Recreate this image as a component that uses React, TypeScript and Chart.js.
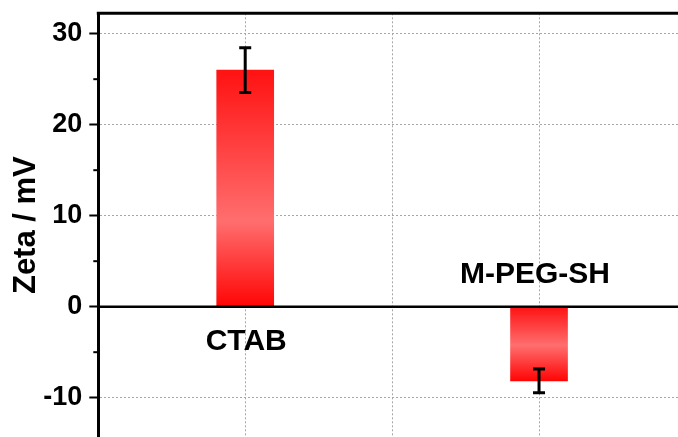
import { useEffect, useRef } from "react";
import { Chart, registerables } from "chart.js";

Chart.register(...registerables);

const categories = ["CTAB", "M-PEG-SH"];
const positions = [1, 2];
const zeta = [26, -8.15];
const zetaError = [2.45, 1.3];
const yTicks = [-10, 0, 10, 20, 30];
const yMinorTicks = [-5, 5, 15, 25];
const xGrid = [1, 1.5, 2];

const FONT = '"Liberation Sans", Arial, Helvetica, sans-serif';
const GRID = "#a6a6a6";

const decorPlugin = {
  id: "decor",
  afterDatasetsDraw(chart: any) {
    const { ctx, chartArea, scales } = chart;
    const xs = scales.x;
    const ys = scales.y;
    const y0 = ys.getPixelForValue(0);
    ctx.save();
    ctx.setLineDash([]);
    ctx.strokeStyle = "#000";
    // zero line
    ctx.lineWidth = 2.5;
    ctx.beginPath();
    ctx.moveTo(chartArea.left, y0);
    ctx.lineTo(chartArea.right, y0);
    ctx.stroke();
    // top frame
    ctx.lineWidth = 3;
    ctx.beginPath();
    ctx.moveTo(chartArea.left - 1.5, chartArea.top);
    ctx.lineTo(chartArea.right, chartArea.top);
    ctx.stroke();
    // minor ticks
    ctx.lineWidth = 2;
    yMinorTicks.forEach((v) => {
      const y = ys.getPixelForValue(v);
      ctx.beginPath();
      ctx.moveTo(chartArea.left - 5, y);
      ctx.lineTo(chartArea.left, y);
      ctx.stroke();
    });
    // error bars
    ctx.lineWidth = 3;
    zeta.forEach((v, i) => {
      const x = xs.getPixelForValue(positions[i]);
      const yt = ys.getPixelForValue(v + zetaError[i]);
      const yb = ys.getPixelForValue(v - zetaError[i]);
      ctx.beginPath();
      ctx.moveTo(x, yt);
      ctx.lineTo(x, yb);
      ctx.moveTo(x - 6, yt);
      ctx.lineTo(x + 6, yt);
      ctx.moveTo(x - 6, yb);
      ctx.lineTo(x + 6, yb);
      ctx.stroke();
    });
    // category labels
    ctx.fillStyle = "#000";
    ctx.font = `bold 30px ${FONT}`;
    ctx.textAlign = "center";
    ctx.textBaseline = "alphabetic";
    categories.forEach((c, i) => {
      const x = xs.getPixelForValue(positions[i]);
      const y = zeta[i] >= 0 ? y0 + 43 : y0 - 24;
      ctx.fillText(c, x + (zeta[i] >= 0 ? 1 : -4), y);
    });
    ctx.restore();
  },
};

export default function App() {
  const canvasRef = useRef<HTMLCanvasElement | null>(null);

  useEffect(() => {
    if (!canvasRef.current) return;
    const chart = new Chart(canvasRef.current, {
      type: "bar",
      data: {
        datasets: [
          {
            data: categories.map((_, i) => ({ x: positions[i], y: zeta[i] })),
            barThickness: 57,
            borderWidth: 0,
            backgroundColor: (c: any) => {
              const ch = c.chart;
              if (!ch.chartArea || c.dataIndex === undefined) return "#ff2020";
              const ys = ch.scales.y;
              const v = zeta[c.dataIndex];
              const p0 = ys.getPixelForValue(0);
              const p1 = ys.getPixelForValue(v);
              const g = ch.ctx.createLinearGradient(0, Math.min(p0, p1), 0, Math.max(p0, p1));
              g.addColorStop(0, "#ff1212");
              g.addColorStop(v >= 0 ? 0.64 : 0.52, "#ff6e6e");
              g.addColorStop(1, "#ff0505");
              return g;
            },
          } as any,
        ],
      },
      options: {
        animation: false,
        responsive: true,
        maintainAspectRatio: false,
        layout: { padding: { top: 13.3, left: 0, right: 0, bottom: 0 } },
        plugins: {
          legend: { display: false },
          tooltip: { enabled: false },
          title: { display: false },
        },
        scales: {
          x: {
            type: "linear",
            offset: false,
            min: 0.5,
            max: 2.473,
            afterBuildTicks: (s: any) => {
              s.ticks = xGrid.map((v) => ({ value: v }));
            },
            afterFit: (s: any) => {
              s.height = 0;
              s.paddingLeft = 0;
              s.paddingRight = 0;
            },
            ticks: { display: false },
            grid: { color: GRID, lineWidth: 1, drawTicks: false, offset: false },
            border: { display: false, dash: [2, 2] },
          },
          y: {
            type: "linear",
            min: -14.32,
            max: 32.24,
            afterBuildTicks: (s: any) => {
              s.ticks = yTicks.map((v) => ({ value: v }));
            },
            afterFit: (s: any) => {
              s.width = 98.3;
              s.paddingTop = 0;
              s.paddingBottom = 0;
            },
            ticks: {
              color: "#000",
              padding: 7,
              font: { family: FONT, size: 27, weight: "bold" },
            },
            grid: {
              color: (c: any) => (c.tick && c.tick.value === 0 ? "rgba(0,0,0,0)" : GRID),
              lineWidth: 1,
              drawTicks: true,
              tickLength: 9,
              tickColor: "#000",
              tickWidth: 2,
            },
            border: { display: true, color: "#000", width: 3, dash: [2, 2] },
            title: {
              display: true,
              text: "Zeta / mV",
              color: "#000",
              font: { family: FONT, size: 31, weight: "bold" },
              padding: { top: 8, bottom: 0 },
            },
          },
        },
      } as any,
      plugins: [decorPlugin],
    });
    return () => chart.destroy();
  }, []);

  return (
    <div style={{ position: "absolute", left: 0, top: 0, width: 678, height: 437, background: "#fff" }}>
      <canvas ref={canvasRef} />
    </div>
  );
}
